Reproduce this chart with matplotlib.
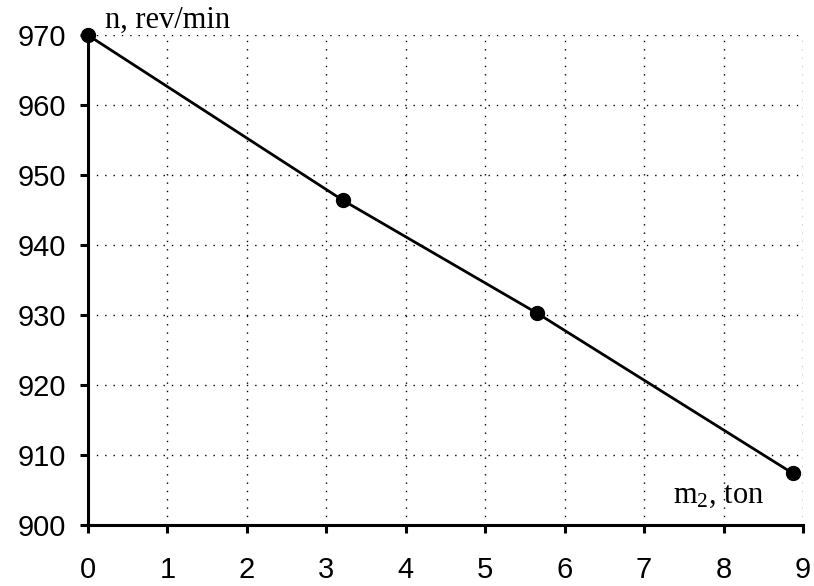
import matplotlib
matplotlib.use("Agg")
from matplotlib import pyplot as plt

# data
m2 = [0, 3.21, 5.65, 8.87]
n_rpm = [970, 946.4, 930.3, 907.4]
x_ticks = [0, 1, 2, 3, 4, 5, 6, 7, 8, 9]
y_ticks = [900, 910, 920, 930, 940, 950, 960, 970]

plt.rcParams['mathtext.fontset'] = 'custom'
plt.rcParams['mathtext.rm'] = 'Liberation Serif'
plt.rcParams['mathtext.it'] = 'Liberation Serif'

fig = plt.figure(figsize=(8.14, 5.86), dpi=100)
ax = fig.add_axes([0.108, 0.104, 0.8785, 0.836])

ax.plot(m2, n_rpm, color="black", linewidth=2.0, marker="o", markersize=10, clip_on=False, zorder=3)

ax.set_xlim(0, 9)
ax.set_ylim(900, 970)
ax.set_xticks(x_ticks)
ax.set_yticks(y_ticks)

ax.grid(True, color="black", linestyle=(0, (1, 5)), linewidth=1.0)
ax.spines['top'].set_visible(False)
ax.spines['right'].set_visible(False)
ax.spines['left'].set_linewidth(2.2)
ax.spines['bottom'].set_linewidth(2.2)

ax.tick_params(axis="both", direction="out", length=6, width=2.2, labelsize=21)
ax.tick_params(axis="x", pad=16)
ax.tick_params(axis="y", pad=10)
for lb in ax.get_xticklabels() + ax.get_yticklabels():
    lb.set_family("Liberation Sans")

ax.text(0.024, 1.014, "n, rev/min", transform=ax.transAxes, family="Liberation Serif",
        fontsize=22, ha="left", va="baseline")
ax.text(0.818, 0.045, r"m$\mathrm{_2}$, ton", transform=ax.transAxes, family="Liberation Serif",
        fontsize=22, ha="left", va="baseline")

fig.savefig("out.png", dpi=100)
